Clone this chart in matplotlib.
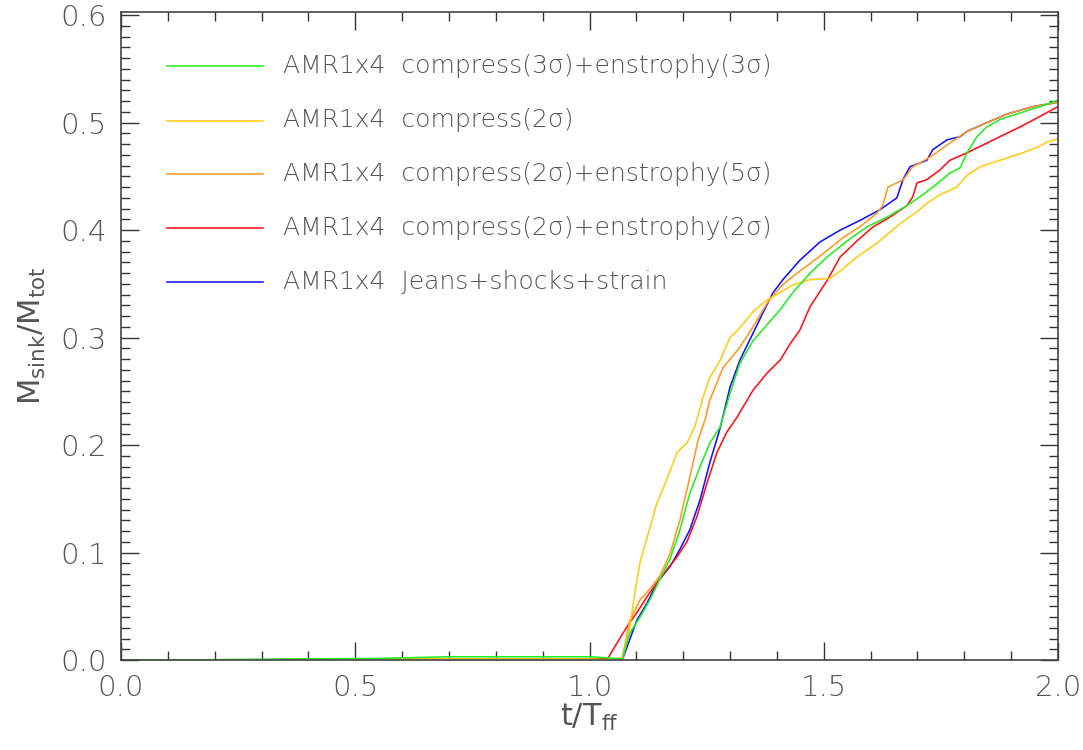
import numpy as np
import matplotlib
matplotlib.use("Agg")
import matplotlib.pyplot as plt
from matplotlib.ticker import MultipleLocator
from matplotlib.lines import Line2D

# ---- data ----
labels = [
    "AMR1x4  compress(3σ)+enstrophy(3σ)",
    "AMR1x4  compress(2σ)",
    "AMR1x4  compress(2σ)+enstrophy(5σ)",
    "AMR1x4  compress(2σ)+enstrophy(2σ)",
    "AMR1x4  Jeans+shocks+strain",
]
colors = ["#22ee22", "#ffcc11", "#ff9922", "#ff1111", "#1111ff"]

base_t = [0.0, 0.12, 0.25, 0.4, 0.55, 0.7, 0.85, 1.0, 1.04]

# green: compress(3s)+enstrophy(3s)
t_green = base_t + [1.07, 1.086, 1.108, 1.129, 1.150, 1.172, 1.193, 1.214, 1.236, 1.257, 1.279,
                    1.300, 1.321, 1.349, 1.379, 1.407, 1.434, 1.471, 1.507, 1.550, 1.592, 1.635,
                    1.678, 1.705, 1.733, 1.769, 1.791, 1.806, 1.827, 1.848, 1.876, 1.919, 1.962, 2.0]
m_green = [0.0, 0.0, 0.0005, 0.001, 0.0015, 0.003, 0.003, 0.003, 0.002] + \
          [0.001, 0.025, 0.040, 0.056, 0.075, 0.094, 0.121, 0.155, 0.180, 0.202, 0.217,
           0.248, 0.276, 0.297, 0.312, 0.326, 0.342, 0.360, 0.375, 0.390, 0.403, 0.412,
           0.423, 0.431, 0.440, 0.453, 0.458, 0.472, 0.487, 0.496, 0.503, 0.509, 0.515, 0.521]

# yellow: compress(2s)
t_yellow = base_t + [1.07, 1.086, 1.097, 1.108, 1.123, 1.144, 1.165, 1.187, 1.208, 1.225, 1.242,
                     1.257, 1.279, 1.300, 1.321, 1.349, 1.379, 1.407, 1.434, 1.471, 1.513, 1.535,
                     1.571, 1.614, 1.663, 1.699, 1.720, 1.748, 1.784, 1.806, 1.834, 1.876, 1.925,
                     1.955, 1.977, 2.0]
m_yellow = [0.0, 0.0, 0.0, 0.0005, 0.001, 0.001, 0.001, 0.001, 0.0] + \
            [0.0, 0.031, 0.063, 0.091, 0.114, 0.146, 0.168, 0.193, 0.202, 0.217, 0.244,
             0.263, 0.279, 0.300, 0.309, 0.324, 0.335, 0.342, 0.349, 0.354, 0.355, 0.362,
             0.375, 0.388, 0.406, 0.417, 0.425, 0.433, 0.440, 0.451, 0.459, 0.465, 0.472,
             0.477, 0.482, 0.485]

# orange: compress(2s)+enstrophy(5s)
t_orange = base_t + [1.07, 1.086, 1.108, 1.129, 1.150, 1.172, 1.193, 1.214, 1.232, 1.247, 1.257,
                     1.285, 1.321, 1.349, 1.379, 1.407, 1.434, 1.471, 1.507, 1.541, 1.577, 1.614,
                     1.626, 1.637, 1.656, 1.670, 1.690, 1.727, 1.769, 1.806, 1.848, 1.891, 1.947, 2.0]
m_orange = [0.0, 0.0, 0.0, 0.0005, 0.001, 0.001, 0.001, 0.001, 0.0] + \
           [0.002, 0.037, 0.056, 0.066, 0.078, 0.099, 0.130, 0.170, 0.205, 0.224, 0.242,
            0.272, 0.291, 0.310, 0.332, 0.347, 0.357, 0.369, 0.381, 0.393, 0.403, 0.416,
            0.423, 0.440, 0.444, 0.447, 0.459, 0.468, 0.481, 0.492, 0.500, 0.508, 0.515, 0.519]

# red: compress(2s)+enstrophy(2s)
t_red = base_t + [1.059, 1.080, 1.101, 1.123, 1.144, 1.165, 1.187, 1.208, 1.229, 1.251, 1.272,
                  1.293, 1.315, 1.349, 1.379, 1.407, 1.428, 1.449, 1.471, 1.507, 1.535,
                  1.571, 1.605, 1.641, 1.678, 1.690, 1.699, 1.720, 1.748, 1.769, 1.806, 1.834,
                  1.876, 1.919, 1.962, 2.0]
m_red = [0.0, 0.0, 0.0, 0.0005, 0.001, 0.001, 0.001, 0.001, 0.002] + \
        [0.016, 0.031, 0.044, 0.059, 0.072, 0.084, 0.096, 0.110, 0.133, 0.165, 0.193,
         0.212, 0.226, 0.251, 0.267, 0.279, 0.294, 0.307, 0.329, 0.353, 0.375,
         0.390, 0.403, 0.412, 0.423, 0.431, 0.444, 0.447, 0.456, 0.465, 0.472, 0.478,
         0.487, 0.496, 0.506, 0.515]

# blue: Jeans+shocks+strain
t_blue = base_t + [1.07, 1.080, 1.101, 1.123, 1.144, 1.172, 1.193, 1.214, 1.236, 1.257, 1.279,
                   1.300, 1.321, 1.349, 1.370, 1.392, 1.413, 1.449, 1.492, 1.535, 1.577, 1.620,
                   1.656, 1.669, 1.684, 1.720, 1.733, 1.763, 1.791, 1.806, 1.848, 1.891, 1.947, 2.0]
m_blue = [0.0, 0.0, 0.0, 0.0005, 0.001, 0.001, 0.001, 0.001, 0.0] + \
         [0.0, 0.012, 0.037, 0.053, 0.072, 0.087, 0.103, 0.121, 0.149, 0.184, 0.216,
          0.254, 0.279, 0.304, 0.323, 0.342, 0.354, 0.372, 0.389, 0.400, 0.409, 0.419,
          0.430, 0.447, 0.459, 0.465, 0.475, 0.484, 0.487, 0.492, 0.500, 0.508, 0.515, 0.519]

series = [(t_green, m_green), (t_yellow, m_yellow), (t_orange, m_orange),
          (t_red, m_red), (t_blue, m_blue)]

xticks = [0.0, 0.5, 1.0, 1.5, 2.0]
yticks = [0.0, 0.1, 0.2, 0.3, 0.4, 0.5, 0.6]

# ---- plot ----
txtc = "#555555"
fig = plt.figure(figsize=(10.83, 7.5), dpi=100)
ax = fig.add_axes([121 / 1083, 90 / 750, (1058 - 121) / 1083, (660 - 12) / 750])

# draw in reverse so green ends up on top like the reference
for (t, m), c in list(zip(series, colors))[::-1]:
    ax.plot(t, m, color=c, lw=1.15)

ax.set_xlim(0, 2.0)
ax.set_ylim(0, 0.603)
ax.set_xticks(xticks)
ax.set_xticklabels([f"{v:.1f}" for v in xticks])
ax.set_yticks(yticks)
ax.set_yticklabels([f"{v:.1f}" for v in yticks])
ax.xaxis.set_minor_locator(MultipleLocator(0.1))
ax.yaxis.set_minor_locator(MultipleLocator(0.01))
ax.tick_params(which="both", direction="in", top=True, right=True, colors="#333333",
               labelcolor=txtc, labelsize=21, width=1.0)
ax.tick_params(which="major", length=13, pad=10)
ax.tick_params(which="minor", length=6.5)
for lbl in ax.get_xticklabels() + ax.get_yticklabels():
    lbl.set_fontweight("light")
for s in ax.spines.values():
    s.set_color("#444444")
    s.set_linewidth(1.2)

ax.set_xlabel(r"$\mathregular{t/T_{ff}}$", fontsize=22, color=txtc, labelpad=0)
ax.set_ylabel(r"$\mathregular{M_{sink}/M_{tot}}$", fontsize=22, color=txtc, labelpad=9)

# legend drawn manually in axes fraction coordinates
W, H = 1058 - 121, 660 - 12
rows_y = [66, 120.5, 174.5, 228, 282]
for lab, c, yp in zip(labels, colors, rows_y):
    yf = (660 - yp) / H
    ax.add_line(Line2D([(167 - 121) / W, (263 - 121) / W], [yf, yf], color=c, lw=1.15,
                       transform=ax.transAxes))
    ax.text((283 - 121) / W, yf, lab, transform=ax.transAxes, fontsize=18, color=txtc,
            va="center", ha="left", fontweight="light")

fig.savefig("out.png", dpi=100)
